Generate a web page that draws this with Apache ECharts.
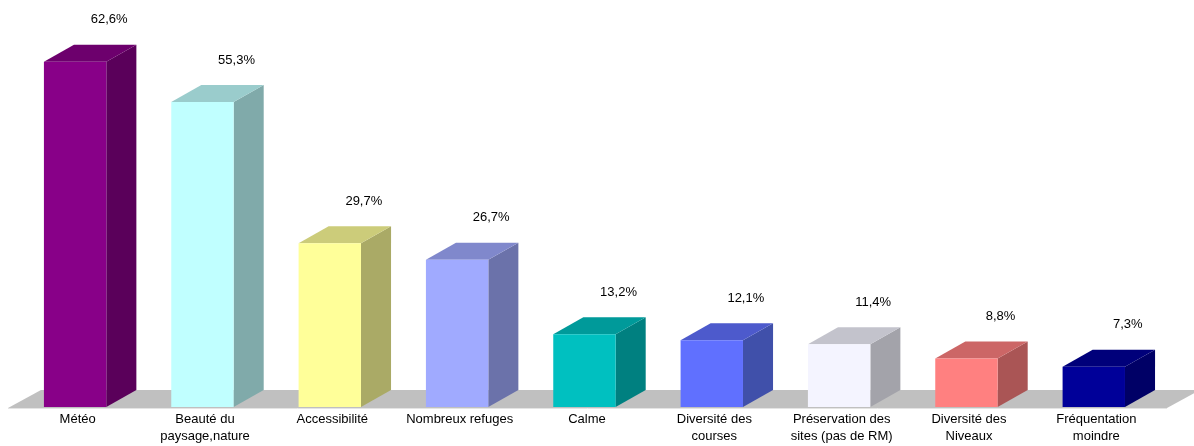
<!DOCTYPE html>
<html>
<head>
<meta charset="utf-8">
<script src="https://cdn.jsdelivr.net/npm/echarts@6/dist/echarts.min.js"></script>
<style>
  html, body { margin: 0; padding: 0; background: #ffffff; }
  #chart { width: 1194px; height: 446px; }
</style>
</head>
<body>
<div id="chart"></div>
<script>
// Raisons du choix — pourcentage des réponses
const categories = [
  'Météo',
  'Beauté du\npaysage,nature',
  'Accessibilité',
  'Nombreux refuges',
  'Calme',
  'Diversité des\ncourses',
  'Préservation des\nsites (pas de RM)',
  'Diversité des\nNiveaux',
  'Fréquentation\nmoindre'
];
const values = [62.6, 55.3, 29.7, 26.7, 13.2, 12.1, 11.4, 8.8, 7.3];

// front / top / side colour of each box
const frontColors = ['#880088', '#c0ffff', '#ffff99', '#a0aaff', '#00c0c0', '#6070ff', '#f4f4ff', '#ff8080', '#000099'];
const topColors   = ['#6d006d', '#9acccc', '#cccc7a', '#8088cc', '#009a9a', '#4d5acc', '#c3c3cc', '#cc6666', '#00007a'];
const sideColors  = ['#5a005a', '#80aaaa', '#aaaa66', '#6b72aa', '#008080', '#4050aa', '#a3a3aa', '#aa5555', '#000066'];

const FONT = '"Liberation Sans", Arial, sans-serif';
const DEPTH_Y = 17;

function fmt(v) {
  return v.toFixed(1).replace('.', ',') + '%';
}

const chart = echarts.init(document.getElementById('chart'), null, { renderer: 'canvas' });

const option = {
  animation: false,
  backgroundColor: '#ffffff',
  grid: { left: 14, right: 34, top: 21, bottom: 39 },
  xAxis: {
    type: 'category',
    data: categories,
    axisLine: { show: false },
    axisTick: { show: false },
    axisLabel: {
      interval: 0,
      margin: 4,
      color: '#000000',
      fontFamily: FONT,
      fontSize: 13,
      lineHeight: 17,
      verticalAlign: 'top'
    }
  },
  yAxis: {
    type: 'value',
    min: 0,
    max: 70,
    show: false,
    splitLine: { show: false }
  },
  series: [
    {
      // grey floor under the boxes
      type: 'custom',
      z: 1,
      silent: true,
      data: [[0, 0]],
      renderItem: function (params, api) {
        const cs = params.coordSys;
        const y0 = api.coord([0, 0])[1];
        const x0 = cs.x - 6;
        const x1 = cs.x + cs.width + 7;
        const dx = 33;
        return {
          type: 'group',
          children: [
            {
              type: 'polygon',
              shape: { points: [[x0, y0 + 1], [x1, y0 + 1], [x1 + dx, y0 - DEPTH_Y], [x0 + dx, y0 - DEPTH_Y]] },
              style: { fill: '#c0c0c0' }
            },
            {
              type: 'line',
              shape: { x1: x0, y1: y0 + 1.5, x2: x1, y2: y0 + 1.5 },
              style: { stroke: '#e4e4e4', lineWidth: 1 }
            }
          ]
        };
      }
    },
    {
      type: 'custom',
      z: 2,
      data: values.map(function (v, i) { return [i, v]; }),
      renderItem: function (params, api) {
        const i = api.value(0);
        const v = api.value(1);
        const base = api.coord([i, 0]);
        const top = api.coord([i, v]);
        const bw = api.size([1, 0])[0];
        const fw = bw * 0.49;
        const fl = base[0] - bw * 0.265;
        const fr = fl + fw;
        const dx = bw * 0.236;
        const ty = top[1];
        const by = base[1];
        return {
          type: 'group',
          children: [
            {
              type: 'polygon',
              shape: { points: [[fr, ty], [fr + dx, ty - DEPTH_Y], [fr + dx, by - DEPTH_Y], [fr, by]] },
              style: { fill: sideColors[i] }
            },
            {
              type: 'polygon',
              shape: { points: [[fl, ty], [fl + dx, ty - DEPTH_Y], [fr + dx, ty - DEPTH_Y], [fr, ty]] },
              style: { fill: topColors[i] }
            },
            {
              type: 'rect',
              shape: { x: fl, y: ty, width: fw, height: by - ty },
              style: { fill: frontColors[i] }
            },
            {
              type: 'text',
              style: {
                text: fmt(v),
                x: fl + dx + fw / 2 + 4,
                y: ty - DEPTH_Y - 25,
                align: 'center',
                verticalAlign: 'middle',
                fill: '#000000',
                font: '13px ' + FONT
              }
            }
          ]
        };
      }
    }
  ]
};

chart.setOption(option);
</script>
</body>
</html>
